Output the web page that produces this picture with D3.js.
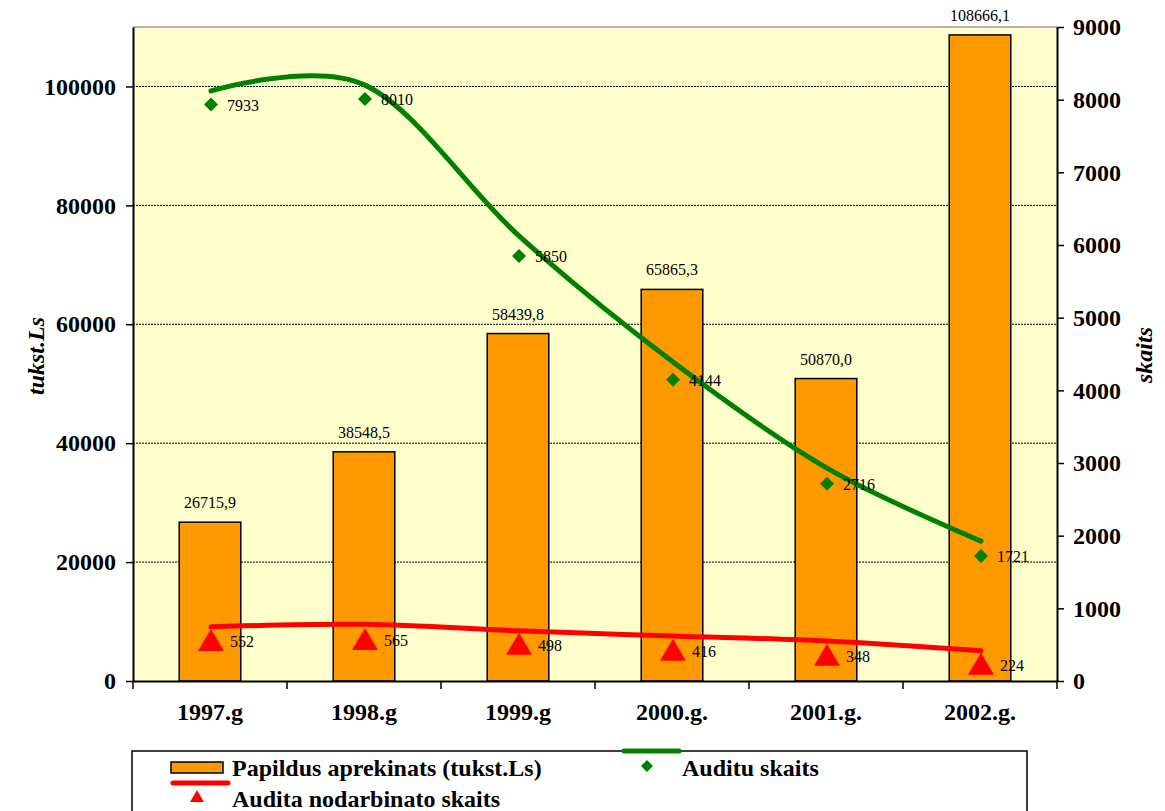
<!DOCTYPE html>
<html>
<head>
<meta charset="utf-8">
<script src="https://cdn.jsdelivr.net/npm/d3@7"></script>
<style>
body { margin:0; background:#fff; }
#graph, #graph text { font-family: "Liberation Serif", "Times New Roman", Times, "DejaVu Serif", serif !important; }
</style>
</head>
<body>
<svg id="graph" width="1165" height="811"></svg>
<script>
// ---------data----------
var years = ["1997.g", "1998.g", "1999.g", "2000.g.", "2001.g.", "2002.g."];
var papildus = [26715.9, 38548.5, 58439.8, 65865.3, 50870.0, 108666.1];
var papildusLabels = ["26715,9", "38548,5", "58439,8", "65865,3", "50870,0", "108666,1"];
var auditu = [7933, 8010, 5850, 4144, 2716, 1721];
var nodarbinato = [552, 565, 498, 416, 348, 224];
var greenLine = [8120, 8200, 6125, 4390, 2930, 1925];
var redLine = [745, 780, 690, 620, 550, 415];
var leftTicks = [0, 20000, 40000, 60000, 80000, 100000];
var rightTicks = [0, 1000, 2000, 3000, 4000, 5000, 6000, 7000, 8000, 9000];

// ---------scales---------
var plot = {left:133, right:1057, top:27, bottom:681};
var svg = d3.select("#graph");

var xScale = d3.scaleBand()
	.domain(years)
	.range([plot.left, plot.right]);
var yLeft = d3.scaleLinear()
	.domain([0, 110000])
	.range([plot.bottom, plot.top]);
var yRight = d3.scaleLinear()
	.domain([0, 9000])
	.range([plot.bottom, plot.top]);
var cx = function(i) { return xScale(years[i]) + xScale.bandwidth()/2 + 1; };

// background
svg.append("rect")
	.attr("x", plot.left).attr("y", plot.top)
	.attr("width", plot.right-plot.left).attr("height", plot.bottom-plot.top)
	.attr("fill", "#FFFFCC");
svg.append("line")
	.attr("x1", plot.left).attr("x2", plot.right)
	.attr("y1", plot.top).attr("y2", plot.top)
	.attr("stroke", "#999").attr("stroke-width", 1.5);

// gridlines
svg.selectAll(".grid")
	.data(leftTicks.filter(function(d){ return d > 0; }))
	.enter().append("line")
	.attr("x1", plot.left).attr("x2", plot.right)
	.attr("y1", function(d){ return yLeft(d); })
	.attr("y2", function(d){ return yLeft(d); })
	.attr("stroke", "#000").attr("stroke-width", 1)
	.attr("stroke-dasharray", "2,1");

// bars
var barW = xScale.bandwidth()*0.4;
svg.selectAll(".bar")
	.data(papildus)
	.enter().append("rect")
	.attr("x", function(d,i){ return cx(i) - barW/2 - 1; })
	.attr("y", function(d){ return yLeft(d); })
	.attr("width", barW)
	.attr("height", function(d){ return plot.bottom - yLeft(d); })
	.attr("fill", "#FF9900")
	.attr("stroke", "#000").attr("stroke-width", 1.5);
svg.selectAll(".barlabel")
	.data(papildus)
	.enter().append("text")
	.attr("x", function(d,i){ return cx(i) - 1; })
	.attr("y", function(d){ return yLeft(d) - 14; })
	.attr("text-anchor", "middle")
	.attr("font-size", 16)
	.text(function(d,i){ return papildusLabels[i]; });

// lines
var lineRight = d3.line()
	.x(function(d,i){ return cx(i); })
	.y(function(d){ return yRight(d); })
	.curve(d3.curveCatmullRom.alpha(0));
svg.append("path")
	.attr("d", lineRight(greenLine))
	.attr("fill", "none").attr("stroke", "#008000")
	.attr("stroke-width", 5).attr("stroke-linecap", "round");
svg.append("path")
	.attr("d", lineRight(redLine))
	.attr("fill", "none").attr("stroke", "#FF0000")
	.attr("stroke-width", 5).attr("stroke-linecap", "round");

// diamonds
svg.selectAll(".diamond")
	.data(auditu)
	.enter().append("path")
	.attr("transform", function(d,i){ return "translate(" + cx(i) + "," + yRight(d) + ")"; })
	.attr("d", "M0,-7L7,0L0,7L-7,0Z")
	.attr("fill", "#008000");
svg.selectAll(".dlabel")
	.data(auditu)
	.enter().append("text")
	.attr("x", function(d,i){ return cx(i) + 16; })
	.attr("y", function(d){ return yRight(d) + 6; })
	.attr("font-size", 16)
	.text(function(d){ return d; });

// triangles
svg.selectAll(".tri")
	.data(nodarbinato)
	.enter().append("path")
	.attr("transform", function(d,i){ return "translate(" + cx(i) + "," + yRight(d) + ")"; })
	.attr("d", "M0,-12L13,10L-13,10Z")
	.attr("fill", "#FF0000");
svg.selectAll(".tlabel")
	.data(nodarbinato)
	.enter().append("text")
	.attr("x", function(d,i){ return cx(i) + 19; })
	.attr("y", function(d){ return yRight(d) + 6; })
	.attr("font-size", 16)
	.text(function(d){ return d; });

// ---------axes---------
var styleAxis = function(g) {
	g.attr("font-family", null);
	g.select(".domain").attr("stroke", "#000").attr("stroke-width", 2);
	g.selectAll(".tick line").attr("stroke", "#000").attr("stroke-width", 1.5);
	g.selectAll("text")
		.attr("font-weight", "bold")
		.attr("font-size", 24)
		.attr("fill", "#000");
};
svg.append("g")
	.attr("transform", "translate(" + plot.left + ",0)")
	.call(d3.axisLeft(yLeft).tickValues(leftTicks).tickSize(7).tickPadding(10).tickSizeOuter(0).tickFormat(d3.format("d")))
	.call(styleAxis);
svg.append("g")
	.attr("transform", "translate(" + plot.right + ",0)")
	.call(d3.axisRight(yRight).tickValues(rightTicks).tickSize(7).tickPadding(9).tickSizeOuter(0).tickFormat(d3.format("d")))
	.call(styleAxis);
var xAxis = svg.append("g")
	.attr("transform", "translate(0," + plot.bottom + ")")
	.call(d3.axisBottom(xScale).tickSize(0).tickPadding(22).tickSizeOuter(0))
	.call(styleAxis);
xAxis.selectAll(".sep")
	.data(d3.range(years.length + 1))
	.enter().append("line")
	.attr("x1", function(i){ return plot.left + i*xScale.bandwidth(); })
	.attr("x2", function(i){ return plot.left + i*xScale.bandwidth(); })
	.attr("y1", 0).attr("y2", 8)
	.attr("stroke", "#000").attr("stroke-width", 1.5);

// axis titles
svg.append("text")
	.attr("transform", "translate(44,356) rotate(-90)")
	.attr("text-anchor", "middle")
	.attr("font-size", 24).attr("font-weight", "bold").attr("font-style", "italic")
	.text("tukst.Ls");
svg.append("text")
	.attr("transform", "translate(1152,355) rotate(-90)")
	.attr("text-anchor", "middle")
	.attr("font-size", 24).attr("font-weight", "bold").attr("font-style", "italic")
	.text("skaits");

// ---------legend---------
var legend = svg.append("g");
legend.append("rect")
	.attr("x", 132).attr("y", 751)
	.attr("width", 895).attr("height", 80)
	.attr("fill", "#fff").attr("stroke", "#000").attr("stroke-width", 1.5);
legend.append("rect")
	.attr("x", 171).attr("y", 762).attr("width", 52).attr("height", 11)
	.attr("fill", "#FF9900").attr("stroke", "#000").attr("stroke-width", 1.5);
legend.append("text")
	.attr("x", 232).attr("y", 776)
	.attr("font-size", 24).attr("font-weight", "bold")
	.text("Papildus aprekinats (tukst.Ls)");
legend.append("line")
	.attr("x1", 173).attr("x2", 228).attr("y1", 783).attr("y2", 783)
	.attr("stroke", "#FF0000").attr("stroke-width", 5).attr("stroke-linecap", "round");
legend.append("path")
	.attr("transform", "translate(197,797)")
	.attr("d", "M0,-7L7,5L-7,5Z")
	.attr("fill", "#FF0000");
legend.append("text")
	.attr("x", 232).attr("y", 807)
	.attr("font-size", 24).attr("font-weight", "bold")
	.text("Audita nodarbinato skaits");
legend.append("line")
	.attr("x1", 624).attr("x2", 679).attr("y1", 751).attr("y2", 751)
	.attr("stroke", "#008000").attr("stroke-width", 5).attr("stroke-linecap", "round");
legend.append("path")
	.attr("transform", "translate(647,766)")
	.attr("d", "M0,-6L6,0L0,6L-6,0Z")
	.attr("fill", "#008000");
legend.append("text")
	.attr("x", 682).attr("y", 776)
	.attr("font-size", 24).attr("font-weight", "bold")
	.text("Auditu skaits");
</script>
</body>
</html>
